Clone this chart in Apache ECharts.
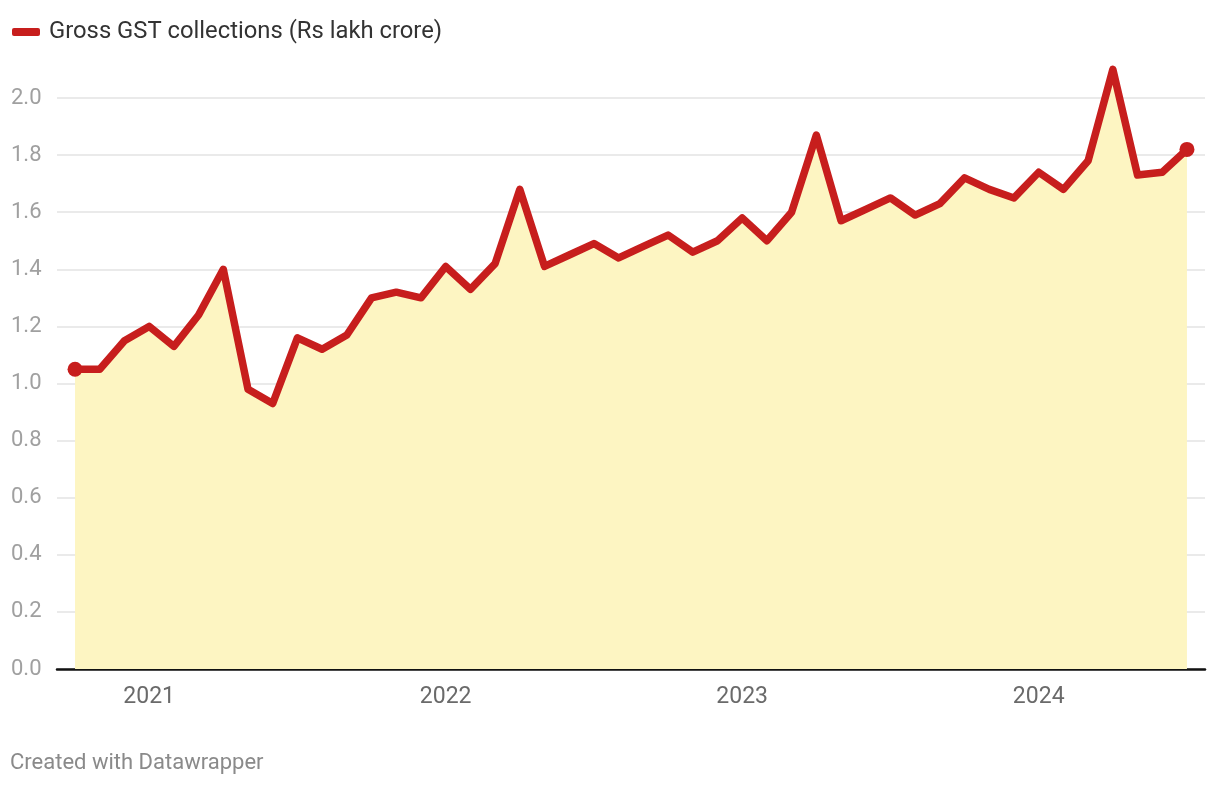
<!DOCTYPE html>
<html>
<head>
<meta charset="utf-8">
<script src="https://cdn.jsdelivr.net/npm/echarts@6/dist/echarts.min.js"></script>
<style>
html,body{margin:0;padding:0;background:#fff;}
#c{width:1220px;height:786px;}
</style>
</head>
<body>
<div id="c"></div>
<script>
// Months Oct 2020 .. Jul 2024
const months = ["2020-10","2020-11","2020-12",
  "2021-01","2021-02","2021-03","2021-04","2021-05","2021-06","2021-07","2021-08","2021-09","2021-10","2021-11","2021-12",
  "2022-01","2022-02","2022-03","2022-04","2022-05","2022-06","2022-07","2022-08","2022-09","2022-10","2022-11","2022-12",
  "2023-01","2023-02","2023-03","2023-04","2023-05","2023-06","2023-07","2023-08","2023-09","2023-10","2023-11","2023-12",
  "2024-01","2024-02","2024-03","2024-04","2024-05","2024-06","2024-07"];
const gst = [1.05,1.05,1.15,
  1.20,1.13,1.24,1.40,0.98,0.93,1.16,1.12,1.17,1.30,1.32,1.30,
  1.41,1.33,1.42,1.68,1.41,1.45,1.49,1.44,1.48,1.52,1.46,1.50,
  1.58,1.50,1.60,1.87,1.57,1.61,1.65,1.59,1.63,1.72,1.68,1.65,
  1.74,1.68,1.78,2.10,1.73,1.74,1.82];
const yearTicks = ["2021-01","2022-01","2023-01","2024-01"];
const yTicks = [0,0.2,0.4,0.6,0.8,1.0,1.2,1.4,1.6,1.8,2.0];
const seriesName = "Gross GST collections (Rs lakh crore)";

const data = gst.map((v,i)=>[i,v]);
const yearIdx = yearTicks.map(t=>months.indexOf(t));
const last = gst.length-1;

const chart = echarts.init(document.getElementById('c'));
chart.setOption({
  animation:false,
  textStyle:{fontFamily:'Roboto'},
  legend:{
    left:12, top:20, padding:0,
    icon:'roundRect', itemWidth:28, itemHeight:8,
    textStyle:{fontSize:23.8, color:'#333', fontFamily:'Roboto', padding:[0,0,0,4]},
    data:[{name:seriesName, itemStyle:{color:'#c71e1d'}}]
  },
  graphic:[{
    type:'text', left:10, top:752,
    style:{text:'Created with Datawrapper', fontSize:22, fill:'#8a8a8a', fontFamily:'Roboto'}
  }],
  grid:{left:57, right:15, top:98, bottom:117, containLabel:false},
  xAxis:{
    type:'value', min:-0.73, max:last+0.73,
    splitLine:{show:false},
    axisLine:{show:true, lineStyle:{color:'#111', width:2.5}},
    axisTick:{show:false},
    axisLabel:{
      customValues:yearIdx,
      margin:17, fontSize:23, color:'#6a6a6a', fontFamily:'Roboto',
      formatter:(v)=>months[Math.round(v)] ? months[Math.round(v)].slice(0,4) : ''
    }
  },
  yAxis:{
    type:'value', min:0, max:2.0, interval:0.2,
    axisLine:{show:false}, axisTick:{show:false},
    splitLine:{lineStyle:{color:'#e3e3e3', width:1.5}},
    axisLabel:{
      align:'left', margin:46, fontSize:22, color:'#a0a0a0', fontFamily:'Roboto',
      customValues:yTicks,
      formatter:(v)=>v.toFixed(1)
    }
  },
  series:[{
    name:seriesName, type:'line', data:data, clip:false,
    lineStyle:{color:'#c71e1d', width:7.5, join:'round', cap:'round'},
    itemStyle:{color:'#c71e1d'},
    areaStyle:{color:'#fdf5c2', opacity:1},
    symbol:'circle', symbolSize:(v,p)=> (p.dataIndex===0||p.dataIndex===last)?15:0,
    showAllSymbol:true,
    z:3
  }]
});
</script>
</body>
</html>
